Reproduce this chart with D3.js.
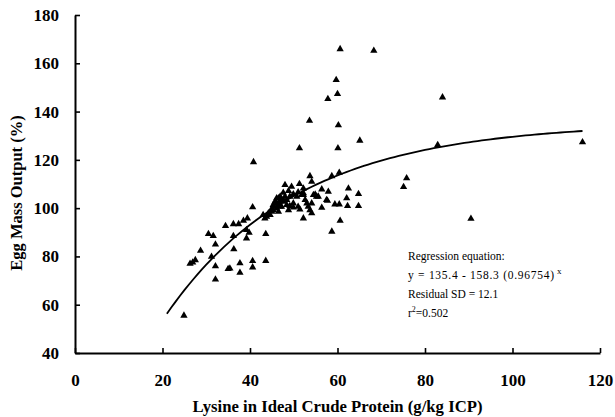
<!DOCTYPE html>
<html>
<head>
<meta charset="utf-8">
<script src="https://cdn.jsdelivr.net/npm/d3@7"></script>
<style>
  html, body { margin: 0; padding: 0; background: #fff; }
  svg { display: block; }
  .axis text { font-family: "Liberation Serif", "Times New Roman", serif; font-weight: bold; font-size: 17px; fill: #000; }
  .axis path, .axis line { stroke: #000; }
</style>
</head>
<body>
<svg id="chart" width="615" height="417"></svg>
<script>
// Lysine level (g/kg ICP) and egg mass output (%) for each observation
const lysine = [
  24.9, 26.3, 26.9, 27.5, 28.7, 30.5, 31.6, 32.1, 31.2, 32.1, 32.1, 34.4, 36.2, 37.4, 38.5, 39.4,
  36.3, 36.2, 35.0, 35.4, 37.7, 37.7, 39.2, 39.8, 39.2, 40.6, 40.6, 40.6, 43.6, 43.6, 40.8,
  43.0, 43.4, 43.8, 44.2, 44.6, 45.0, 45.3, 45.7, 46.1, 46.1, 46.5, 46.5, 46.9, 46.9, 47.2,
  47.6, 48.0, 48.4, 48.8, 49.1, 48.4, 49.1, 49.9, 51.0, 51.4, 47.6, 48.8, 49.9, 51.0, 51.8,
  52.2, 48.0, 49.5, 51.3, 52.2, 53.7, 54.1, 58.7, 60.4, 56.4, 57.9, 62.5, 64.8, 62.1, 64.8,
  62.3, 59.4, 60.4, 60.6, 58.7, 56.4, 57.7, 55.6, 54.9, 54.1, 53.7, 54.1, 53.3, 52.2,
  45.0, 45.3, 46.1, 46.5, 46.9, 47.2, 47.6, 49.9, 50.7, 52.2, 52.6, 53.0, 54.5, 55.2, 57.5,
  51.3, 60.1, 53.6, 60.2, 65.1, 57.8, 60.0, 59.7, 60.6, 68.3, 84.0, 82.9, 116.0, 75.8, 75.1, 90.5
];
const eggMass = [
  55.5, 77.0, 77.5, 78.5, 82.4, 89.3, 88.5, 85.0, 79.9, 76.0, 70.5, 92.6, 93.4, 93.4, 94.8, 95.8,
  83.0, 88.5, 74.8, 75.0, 77.2, 73.3, 91.0, 89.8, 87.5, 78.1, 75.5, 100.4, 78.2, 89.3, 119.1,
  97.2, 95.8, 96.5, 97.9, 97.2, 98.5, 99.2, 102.7, 104.1, 99.9, 102.0, 98.5, 104.8, 100.6, 103.4,
  102.7, 104.8, 103.4, 99.2, 104.8, 101.3, 100.9, 100.3, 100.6, 99.5, 106.4, 107.1, 105.8, 106.6, 105.5,
  106.2, 109.6, 108.9, 110.0, 108.2, 113.3, 111.0, 113.3, 114.7, 107.8, 106.8, 108.2, 105.9, 104.1, 100.9,
  100.9, 101.6, 101.6, 94.8, 90.3, 100.2, 103.1, 104.8, 105.7, 102.0, 99.2, 97.9, 100.6, 95.8,
  99.9, 101.3, 102.0, 104.1, 101.3, 100.6, 103.4, 102.0, 104.8, 105.5, 103.4, 102.0, 105.5, 104.8, 103.4,
  124.8, 124.8, 136.2, 134.4, 128.0, 145.2, 147.3, 153.1, 165.9, 165.2, 145.9, 126.2, 127.3, 112.4, 108.8, 95.6
];

// Fitted exponential response: y = a - b * c^x
const fitA = 135.4, fitB = 158.3, fitC = 0.96754;
const fitRange = [21, 116];

const xTicks = [0, 20, 40, 60, 80, 100, 120];
const yTicks = [40, 60, 80, 100, 120, 140, 160, 180];

const xTitle = "Lysine in Ideal Crude Protein (g/kg ICP)";
const yTitle = "Egg Mass Output (%)";
const noteLines = ["Regression equation:", "y = 135.4 - 158.3 (0.96754)", "Residual SD = 12.1", "r", "=0.502"];

const serif = '"Liberation Serif", "Times New Roman", serif';
const svg = d3.select("#chart");
const x = d3.scaleLinear().domain([0, 120]).range([75, 600]);
const y = d3.scaleLinear().domain([40, 180]).range([353, 15]);

// Axes with inward ticks
const gx = svg.append("g").attr("class", "axis").attr("transform", `translate(0,${y(40)})`)
  .call(d3.axisBottom(x).tickValues(xTicks).tickSizeInner(-5).tickSizeOuter(0).tickPadding(21).tickFormat(d3.format("d")));
const gy = svg.append("g").attr("class", "axis").attr("transform", `translate(${x(0)},0)`)
  .call(d3.axisLeft(y).tickValues(yTicks).tickSizeInner(-5).tickSizeOuter(0).tickPadding(16).tickFormat(d3.format("d")));
[gx, gy].forEach(g => {
  g.select(".domain").attr("stroke-width", 2);
  g.selectAll(".tick line").attr("stroke-width", 1.6);
});

// Axis titles
svg.append("text")
  .attr("x", (x(0) + x(120)) / 2).attr("y", 412)
  .attr("text-anchor", "middle")
  .style("font-family", serif)
  .style("font-weight", "bold").style("font-size", "16.7px")
  .text(xTitle);
svg.append("text")
  .attr("transform", `translate(22,${(y(40) + y(180)) / 2 + 9}) rotate(-90)`)
  .attr("text-anchor", "middle")
  .style("font-family", serif)
  .style("font-weight", "bold").style("font-size", "16.5px")
  .text(yTitle);

// Observations as filled triangles
const pts = lysine.map((v, i) => [v, eggMass[i]]);
svg.append("g").selectAll("path").data(pts).join("path")
  .attr("transform", d => `translate(${x(d[0])},${y(d[1])})`)
  .attr("d", d3.symbol(d3.symbolTriangle, 23))
  .attr("fill", "#000");

// Fitted curve
const fitX = d3.range(fitRange[0], fitRange[1] + 0.001, 1);
const fitPts = fitX.map(v => [v, fitA - fitB * Math.pow(fitC, v)]);
svg.append("path")
  .datum(fitPts)
  .attr("fill", "none").attr("stroke", "#000").attr("stroke-width", 1.8)
  .attr("d", d3.line().x(d => x(d[0])).y(d => y(d[1])));

// Regression note
const note = svg.append("g")
  .style("font-family", serif)
  .style("font-size", "11.5px");
note.append("text").attr("x", 408).attr("y", 260).text(noteLines[0]);
const eq = note.append("text").attr("x", 408).attr("y", 279);
eq.append("tspan").attr("textLength", 146).attr("lengthAdjust", "spacing").text(noteLines[1]);
eq.append("tspan").attr("x", 557).attr("dy", -5).style("font-size", "9px").text("x");
note.append("text").attr("x", 408).attr("y", 298).text(noteLines[2]);
const r2 = note.append("text").attr("x", 408).attr("y", 317);
r2.append("tspan").text(noteLines[3]);
r2.append("tspan").attr("dy", -5).style("font-size", "8px").text("2");
r2.append("tspan").attr("dy", 5).text(noteLines[4]);
</script>
</body>
</html>
